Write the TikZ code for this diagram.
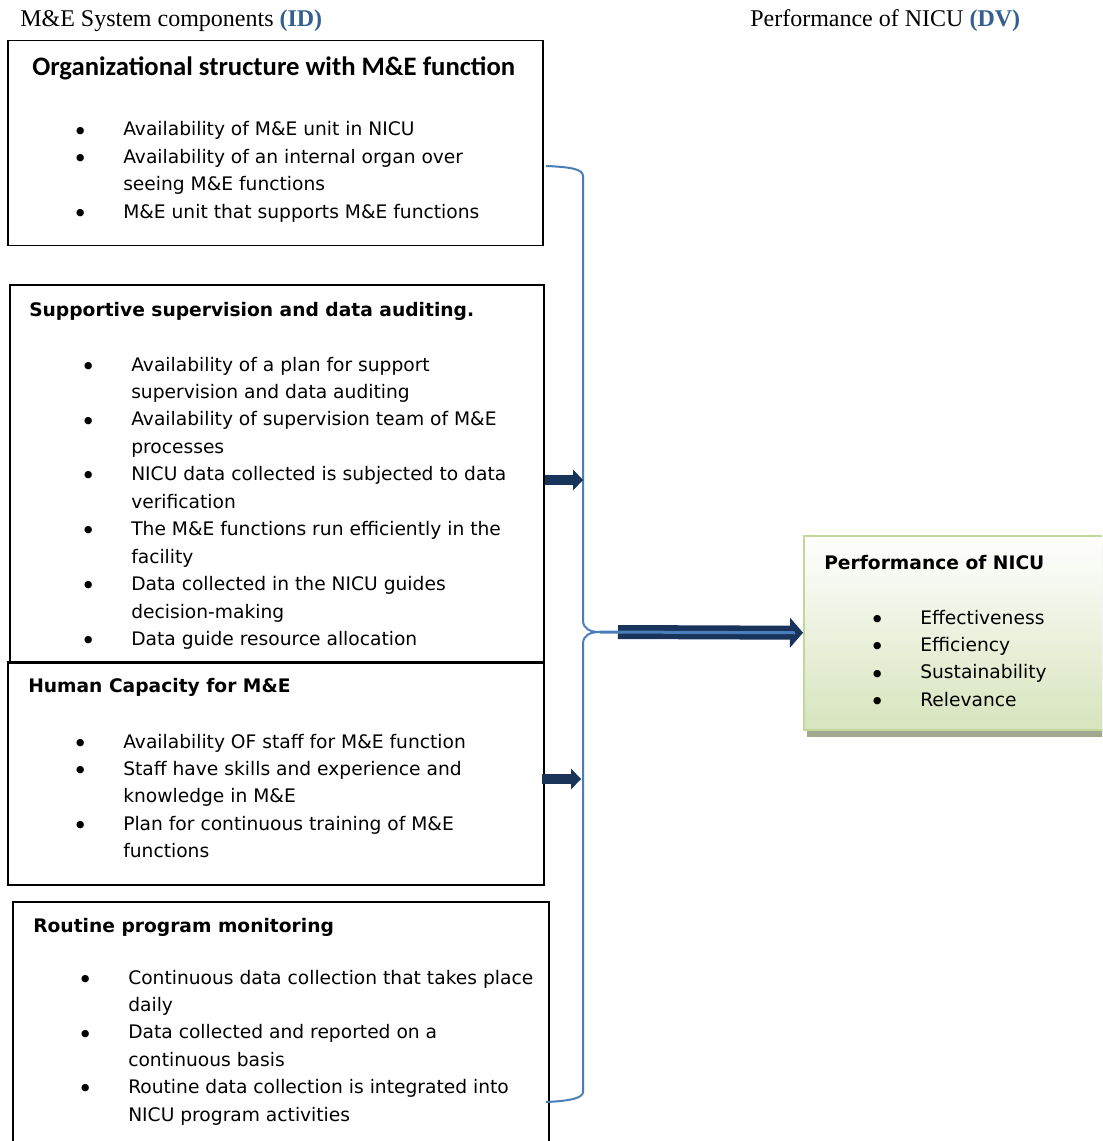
\documentclass[tikz,border=0pt]{standalone}
\usepackage{fontspec}
\setmainfont{Liberation Serif}
\newfontfamily\vfont{DejaVu Sans}
\newfontfamily\calfont{Carlito}
\usepackage{tikz}
\usetikzlibrary{arrows.meta,shadows}

\definecolor{idblue}{RGB}{54,95,145}
\definecolor{bracecol}{RGB}{74,126,187}
\definecolor{navy}{RGB}{24,52,90}
\definecolor{greenfill}{RGB}{215,228,189}
\definecolor{greenline}{RGB}{195,214,155}
\definecolor{shadowcol}{RGB}{160,168,142}

\newlength\px \setlength\px{0.75pt}
\newlength\gap \setlength\gap{43\px}
\newcommand\itm{\makebox[0pt]{\raisebox{-0.4ex}{\scalebox{1.35}{\textbullet}}}\hspace{\gap}}
\newcommand\cnt{\hspace{\gap}}

\tikzset{
  box/.style={draw, line width=1.5\px, anchor=north west, inner sep=0pt},
  title/.style={anchor=base west, inner sep=0pt, font=\vfont\bfseries\fontsize{14}{17}\selectfont},
  list/.style={anchor=base west, inner sep=0pt, font=\vfont\fontsize{14}{20.6}\selectfont},
  head/.style={anchor=base west, inner sep=0pt, font=\fontsize{18}{21}\selectfont},
  smallarr/.style={navy, line width=7.5pt, -{Triangle[width=15.75pt, length=7.5pt, line width=0pt]}},
  bigarr/.style={navy, line width=10.5pt, -{Triangle[width=22.5pt, length=9.75pt, line width=0pt]}},
  brace/.style={bracecol, line width=1.5pt}
}

\begin{document}
\begin{tikzpicture}[x=0.75pt, y=-0.75pt]
  \useasboundingbox (0,0) rectangle (1102,1141);
  \clip (0,0) rectangle (1102,1141);

  % column headers
  \node[head] (idhead) at (20,27) {M\&E System components \textbf{\color{idblue}(ID)}};
  \node[head] (dvhead) at (750,27) {Performance of NICU \textbf{\color{idblue}(DV)}};

  % independent variable boxes
  \node[box, minimum width=535\px, minimum height=205\px] (org) at (7,40) {};
  \node[anchor=base west, inner sep=0pt, font=\calfont\bfseries\fontsize{20}{24}\selectfont] (orgtitle) at (32,76)
    {Organizational structure with M\&E function};
  \node[list] (orglist) at (80,136) {\begin{tabular}[t]{@{}l@{}}
    \itm Availability of M\&E unit in NICU\\
    \itm Availability of an internal organ over\\
    \cnt seeing M\&E functions\\
    \itm M\&E unit that supports M\&E functions
  \end{tabular}};

  \node[box, minimum width=534\px, minimum height=378\px] (sup) at (9,284) {};
  \node[title] (suptitle) at (29,316) {Supportive supervision and data auditing.};
  \node[list] (suplist) at (88,371) {\begin{tabular}[t]{@{}l@{}}
    \itm Availability of a plan for support\\
    \cnt supervision and data auditing\\
    \itm Availability of supervision team of M\&E\\
    \cnt processes\\
    \itm NICU data collected is subjected to data\\
    \cnt verification\\
    \itm The M\&E functions run efficiently in the\\
    \cnt facility\\
    \itm Data collected in the NICU guides\\
    \cnt decision-making\\
    \itm Data guide resource allocation
  \end{tabular}};

  \node[box, minimum width=536\px, minimum height=223\px] (hum) at (7,661) {};
  \node[title] (humtitle) at (28,692) {Human Capacity for M\&E};
  \node[list] (humlist) at (80,748) {\begin{tabular}[t]{@{}l@{}}
    \itm Availability OF staff for M\&E function\\
    \itm Staff have skills and experience and\\
    \cnt knowledge in M\&E\\
    \itm Plan for continuous training of M\&E\\
    \cnt functions
  \end{tabular}};

  \node[box, minimum width=536\px, minimum height=260\px] (rout) at (12,901) {};
  \node[title] (routtitle) at (33,932) {Routine program monitoring};
  \node[list] (routlist) at (85,984) {\begin{tabular}[t]{@{}l@{}}
    \itm Continuous data collection that takes place\\
    \cnt daily\\
    \itm Data collected and reported on a\\
    \cnt continuous basis\\
    \itm Routine data collection is integrated into\\
    \cnt NICU program activities
  \end{tabular}};

  % dependent variable box
  \node[box, draw=greenline, minimum width=310\px, minimum height=194\px,
        top color=white, bottom color=greenfill,
        drop shadow={shadow xshift=3\px, shadow yshift=-7\px, fill=shadowcol, opacity=1}] (perf) at (803,535) {};
  \node[title] (perftitle) at (824,569) {Performance of NICU};
  \node[list] (perflist) at (877,624) {\begin{tabular}[t]{@{}l@{}}
    \itm Effectiveness\\
    \itm Efficiency\\
    \itm Sustainability\\
    \itm Relevance
  \end{tabular}};

  % brace joining the four components
  \coordinate (tip) at (600,632);
  \coordinate (supin) at (583,480);
  \coordinate (humin) at (581,779);
  \draw[brace] (546,166) .. controls (570,167) and (583,169) .. (583,176) -- (583,620)
    .. controls (583,629) and (590,632) .. (tip)
    .. controls (590,632) and (583,635) .. (583,644) -- (583,1092)
    .. controls (583,1098) and (570,1101) .. (546,1102);

  \draw[smallarr] (sup.east |- supin) -- (supin);
  \draw[smallarr] ([xshift=-3\px]hum.east |- humin) -- (humin);
  \draw[bigarr] ([xshift=18\px]tip) -- (perf.west);
  \draw[brace, line width=2.25pt] (tip) -- ([xshift=-8\px]perf.west);
\end{tikzpicture}
\end{document}
